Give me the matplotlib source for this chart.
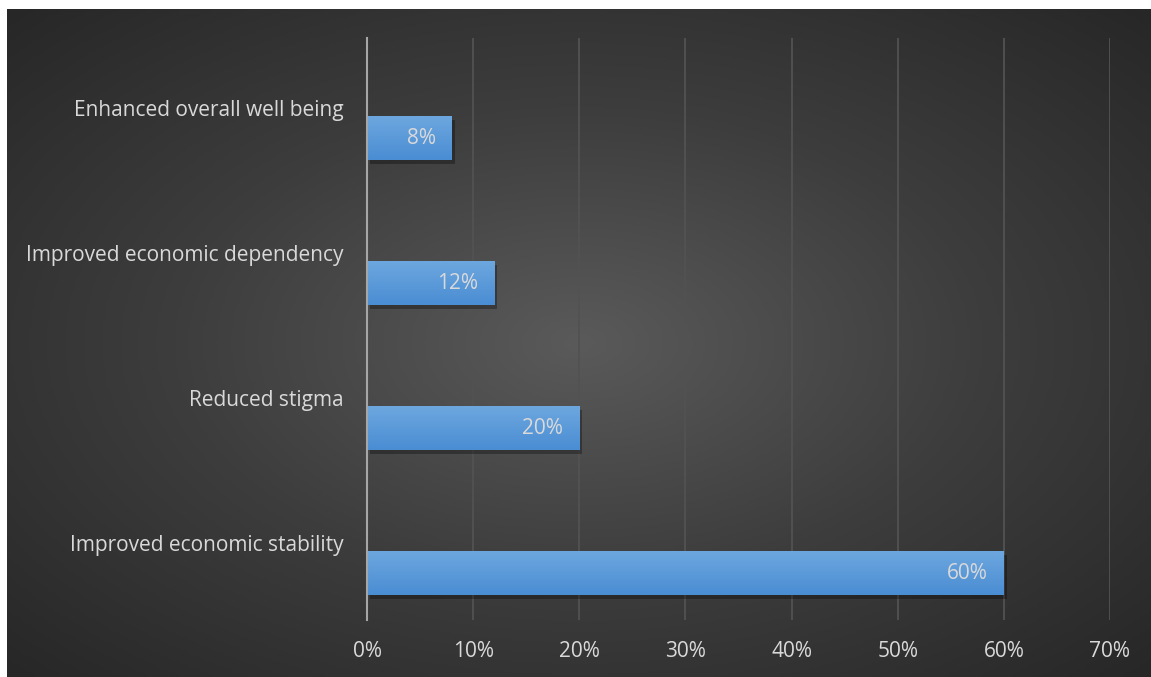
import numpy as np
import matplotlib.pyplot as plt
import matplotlib.patheffects as pe
from matplotlib.colors import LinearSegmentedColormap

# data (bottom to top)
categories = ['Improved economic stability', 'Reduced stigma',
              'Improved economic dependency', 'Enhanced overall well being']
values = [60, 20, 12, 8]
xticks = [0, 10, 20, 30, 40, 50, 60, 70]

plt.rcParams['font.family'] = ['Open Sans', 'DejaVu Sans']

W, H = 1151, 677
fig = plt.figure(figsize=(W / 100, H / 100), dpi=100, facecolor='white')

# radial gradient background
bg = fig.add_axes([7 / W, 0, (W - 7) / W, (H - 9) / H])
bg.set_axis_off()
yy, xx = np.mgrid[-1:1:300j, -1:1:500j]
r = np.sqrt(xx ** 2 + yy ** 2) / np.sqrt(2)
bg_cmap = LinearSegmentedColormap.from_list('bg', ['#5a5a5a', '#3d3d3d', '#272727'])
bg.imshow(r, cmap=bg_cmap, aspect='auto', extent=[0, 1, 0, 1], vmin=0, vmax=1)
bg.set_xlim(0, 1)
bg.set_ylim(0, 1)

ax = fig.add_axes([367 / W, 1 - 620 / H, (1110 - 367) / W, (620 - 38) / H])
ax.patch.set_alpha(0)

y = np.arange(len(categories))
bars = ax.barh(y, values, height=0.3, color='#5b9bd5', zorder=3,
               path_effects=[pe.SimplePatchShadow(offset=(2, -3), shadow_rgbFace='black', alpha=0.3),
                             pe.Normal()])

bar_cmap = LinearSegmentedColormap.from_list('bar', ['#4a8dd3', '#6da7df'])
grad = np.linspace(0, 1, 100).reshape(-1, 1)
for b, v in zip(bars, values):
    x0, y0, w, h = b.get_x(), b.get_y(), b.get_width(), b.get_height()
    im = ax.imshow(grad, cmap=bar_cmap, aspect='auto', origin='lower',
                   extent=[x0, x0 + w, y0, y0 + h], zorder=4)
    im.set_clip_path(b)
    ax.text(v - 1.5, y0 + h / 2, f'{v}%', ha='right', va='center',
            color='#d9d9d9', fontsize=15, zorder=5)

ax.set_xlim(0, 70)
ax.set_ylim(-0.324, 3.69)
ax.set_xticks(xticks)
ax.set_xticklabels([f'{t}%' for t in xticks], color='#d9d9d9', fontsize=15)
ax.tick_params(axis='x', length=0, pad=15)
ax.set_yticks([])
ax.grid(axis='x', color='#525252', linewidth=1.3, zorder=0)
for s in ['top', 'right', 'bottom']:
    ax.spines[s].set_visible(False)
ax.spines['left'].set_color('#a6a6a6')
ax.spines['left'].set_linewidth(1.5)
ax.spines['left'].set_zorder(6)

for i, c in enumerate(categories):
    ax.text(-0.032, i + 0.19, c, transform=ax.get_yaxis_transform(),
            ha='right', va='center', color='#d9d9d9', fontsize=15)

fig.savefig('out.png', dpi=100, facecolor='white')
